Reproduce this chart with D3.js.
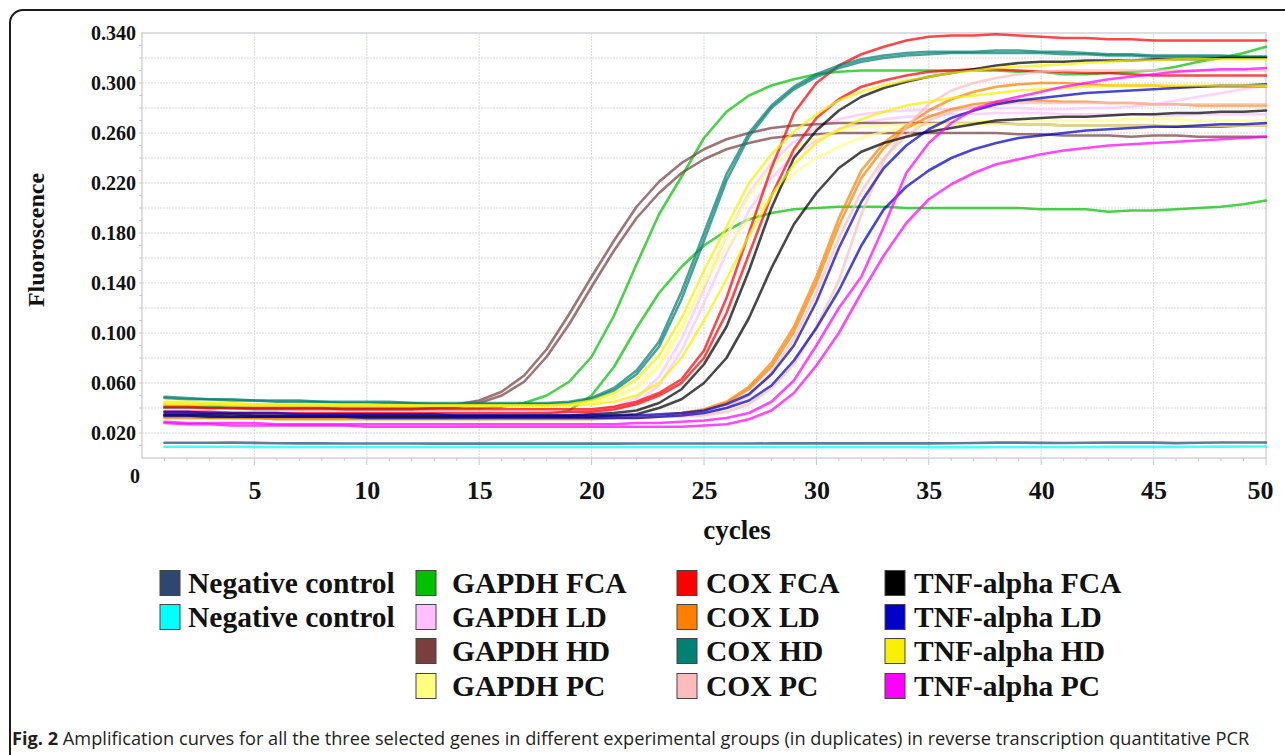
<!DOCTYPE html>
<html>
<head>
<meta charset="utf-8">
<script src="https://d3js.org/d3.v7.min.js"></script>
<style>
  body { margin: 0; background: #fff; }
  svg { display: block; }
</style>
</head>
<body>
<svg width="1285" height="755"></svg>
<script>
// ---- data ----
var cycles = [1,2,3,4,5,6,7,8,9,10,11,12,13,14,15,16,17,18,19,20,21,22,23,24,25,
              26,27,28,29,30,31,32,33,34,35,36,37,38,39,40,41,42,43,44,45,46,47,48,49,50];

var xTicks = [5,10,15,20,25,30,35,40,45,50];
var yTicks = [0.02,0.06,0.10,0.14,0.18,0.22,0.26,0.30,0.34];
var yGrid  = [0.02,0.04,0.06,0.08,0.10,0.12,0.14,0.16,0.18,0.20,0.22,0.24,0.26,0.28,0.30,0.32];

var negCtrl1 = [0.0122,0.0122,0.0122,0.0123,0.0121,0.0118,0.0117,0.0117,0.0116,0.0116,
  0.0116,0.0116,0.0115,0.0115,0.0115,0.0115,0.0115,0.0115,0.0115,0.0115,
  0.0115,0.0116,0.0116,0.0116,0.0116,0.0116,0.0116,0.0117,0.0117,0.0117,
  0.0117,0.0117,0.0117,0.0117,0.0117,0.0118,0.0120,0.0123,0.0123,0.0121,
  0.0120,0.0122,0.0123,0.0123,0.0123,0.0119,0.0122,0.0124,0.0124,0.0124];
var negCtrl2 = [0.0090,0.0090,0.0090,0.0090,0.0089,0.0088,0.0088,0.0088,0.0088,0.0088,
  0.0088,0.0088,0.0088,0.0088,0.0088,0.0088,0.0088,0.0088,0.0088,0.0088,
  0.0088,0.0088,0.0088,0.0088,0.0088,0.0088,0.0088,0.0088,0.0088,0.0088,
  0.0088,0.0088,0.0088,0.0088,0.0087,0.0087,0.0087,0.0088,0.0088,0.0088,
  0.0088,0.0088,0.0089,0.0089,0.0089,0.0089,0.0090,0.0091,0.0092,0.0092];

var gapdhFca1 = [0.041,0.041,0.041,0.040,0.040,0.040,0.040,0.040,0.040,0.040,
  0.040,0.040,0.040,0.040,0.040,0.041,0.044,0.050,0.061,0.081,
  0.114,0.155,0.195,0.225,0.256,0.277,0.290,0.298,0.303,0.307,
  0.309,0.310,0.310,0.310,0.310,0.310,0.310,0.310,0.309,0.309,
  0.307,0.307,0.308,0.309,0.310,0.313,0.317,0.320,0.324,0.329];
var gapdhFca2 = [0.033,0.033,0.032,0.032,0.032,0.032,0.032,0.032,0.032,0.032,
  0.032,0.032,0.032,0.032,0.032,0.033,0.034,0.035,0.038,0.050,
  0.073,0.104,0.132,0.153,0.170,0.182,0.191,0.196,0.199,0.200,
  0.201,0.201,0.201,0.200,0.200,0.200,0.200,0.200,0.200,0.199,
  0.199,0.199,0.197,0.198,0.198,0.199,0.200,0.201,0.203,0.206];
var gapdhLd1 = [0.037,0.037,0.037,0.036,0.036,0.036,0.036,0.036,0.036,0.036,
  0.036,0.036,0.036,0.036,0.036,0.036,0.036,0.037,0.037,0.038,
  0.041,0.048,0.065,0.095,0.135,0.178,0.212,0.236,0.253,0.264,
  0.271,0.275,0.277,0.278,0.279,0.279,0.280,0.280,0.280,0.279,
  0.279,0.280,0.280,0.281,0.283,0.286,0.289,0.292,0.295,0.298];
var gapdhLd2 = [0.036,0.036,0.035,0.035,0.035,0.035,0.035,0.035,0.035,0.035,
  0.035,0.035,0.035,0.035,0.035,0.035,0.035,0.035,0.035,0.036,
  0.038,0.044,0.058,0.086,0.124,0.164,0.198,0.224,0.242,0.254,
  0.263,0.268,0.271,0.273,0.274,0.275,0.275,0.276,0.276,0.276,
  0.275,0.275,0.275,0.275,0.274,0.274,0.275,0.275,0.275,0.275];
var gapdhHd1 = [0.043,0.043,0.043,0.042,0.042,0.042,0.042,0.042,0.042,0.042,
  0.042,0.042,0.042,0.043,0.046,0.053,0.066,0.087,0.115,0.145,
  0.174,0.201,0.221,0.236,0.247,0.255,0.260,0.264,0.266,0.267,
  0.268,0.268,0.268,0.268,0.268,0.268,0.268,0.268,0.267,0.267,
  0.266,0.266,0.266,0.266,0.266,0.265,0.265,0.265,0.266,0.266];
var gapdhHd2 = [0.040,0.040,0.040,0.040,0.039,0.039,0.039,0.039,0.039,0.039,
  0.039,0.039,0.040,0.041,0.044,0.050,0.061,0.081,0.107,0.137,
  0.166,0.192,0.212,0.228,0.239,0.247,0.252,0.256,0.258,0.259,
  0.260,0.260,0.260,0.260,0.260,0.260,0.260,0.260,0.259,0.259,
  0.258,0.258,0.258,0.257,0.258,0.258,0.257,0.257,0.257,0.257];
var gapdhPc1 = [0.044,0.044,0.044,0.043,0.043,0.043,0.043,0.043,0.043,0.043,
  0.043,0.043,0.043,0.043,0.043,0.043,0.043,0.043,0.044,0.045,
  0.049,0.057,0.075,0.105,0.140,0.168,0.192,0.210,0.228,0.240,
  0.249,0.256,0.261,0.265,0.267,0.268,0.269,0.270,0.270,0.270,
  0.270,0.270,0.270,0.271,0.271,0.271,0.270,0.270,0.270,0.270];
var gapdhPc2 = [0.043,0.043,0.043,0.043,0.042,0.042,0.042,0.042,0.042,0.042,
  0.042,0.042,0.042,0.042,0.042,0.042,0.042,0.042,0.043,0.044,
  0.048,0.056,0.073,0.103,0.140,0.178,0.210,0.233,0.247,0.256,
  0.262,0.265,0.266,0.267,0.267,0.267,0.267,0.267,0.267,0.267,
  0.266,0.266,0.266,0.266,0.266,0.266,0.266,0.266,0.266,0.266];

var coxFca1 = [0.041,0.041,0.040,0.040,0.040,0.040,0.040,0.040,0.039,0.039,
  0.039,0.039,0.039,0.039,0.039,0.039,0.039,0.039,0.039,0.039,
  0.041,0.045,0.052,0.063,0.086,0.128,0.180,0.232,0.276,0.300,
  0.314,0.323,0.329,0.334,0.337,0.338,0.338,0.339,0.338,0.337,
  0.336,0.336,0.335,0.335,0.334,0.334,0.334,0.334,0.334,0.334];
var coxFca2 = [0.037,0.037,0.037,0.036,0.036,0.036,0.036,0.036,0.036,0.036,
  0.036,0.036,0.036,0.036,0.036,0.036,0.036,0.036,0.037,0.037,
  0.039,0.043,0.050,0.060,0.080,0.116,0.163,0.210,0.247,0.272,
  0.287,0.297,0.302,0.306,0.309,0.310,0.311,0.311,0.310,0.309,
  0.309,0.308,0.308,0.307,0.306,0.306,0.306,0.306,0.306,0.306];
var coxLd1 = [0.033,0.033,0.033,0.033,0.032,0.032,0.032,0.032,0.032,0.032,
  0.032,0.032,0.032,0.032,0.032,0.032,0.032,0.032,0.032,0.032,
  0.032,0.033,0.034,0.036,0.039,0.045,0.057,0.076,0.105,0.145,
  0.192,0.230,0.252,0.266,0.278,0.287,0.293,0.297,0.299,0.300,
  0.300,0.299,0.298,0.298,0.298,0.297,0.297,0.297,0.297,0.297];
var coxLd2 = [0.032,0.032,0.032,0.032,0.032,0.031,0.031,0.031,0.031,0.031,
  0.031,0.031,0.031,0.031,0.031,0.031,0.031,0.031,0.031,0.031,
  0.032,0.032,0.033,0.035,0.038,0.044,0.055,0.073,0.101,0.140,
  0.186,0.224,0.248,0.264,0.273,0.279,0.283,0.285,0.286,0.286,
  0.285,0.285,0.284,0.284,0.283,0.283,0.282,0.282,0.282,0.282];
var coxHd1 = [0.049,0.048,0.047,0.047,0.046,0.046,0.046,0.045,0.045,0.045,
  0.045,0.044,0.044,0.044,0.044,0.044,0.044,0.044,0.045,0.048,
  0.056,0.070,0.093,0.133,0.180,0.227,0.260,0.282,0.297,0.307,
  0.314,0.319,0.322,0.324,0.325,0.325,0.325,0.326,0.326,0.325,
  0.325,0.324,0.323,0.323,0.322,0.322,0.322,0.322,0.321,0.321];
var coxHd2 = [0.048,0.047,0.047,0.046,0.046,0.045,0.045,0.045,0.044,0.044,
  0.044,0.044,0.043,0.043,0.043,0.043,0.043,0.043,0.044,0.047,
  0.054,0.067,0.089,0.127,0.174,0.222,0.257,0.280,0.295,0.305,
  0.312,0.317,0.320,0.322,0.323,0.324,0.324,0.324,0.324,0.324,
  0.323,0.323,0.322,0.322,0.321,0.321,0.321,0.321,0.321,0.321];
var coxPc1 = [0.034,0.034,0.034,0.033,0.033,0.033,0.033,0.033,0.033,0.033,
  0.033,0.033,0.033,0.033,0.033,0.033,0.033,0.033,0.033,0.033,
  0.033,0.033,0.033,0.033,0.034,0.037,0.043,0.056,0.075,0.105,
  0.142,0.195,0.238,0.265,0.283,0.294,0.300,0.304,0.307,0.309,
  0.310,0.310,0.310,0.310,0.310,0.310,0.310,0.310,0.310,0.310];
var coxPc2 = [0.035,0.035,0.035,0.034,0.034,0.034,0.034,0.034,0.034,0.034,
  0.034,0.034,0.034,0.034,0.034,0.034,0.034,0.034,0.034,0.034,
  0.034,0.034,0.034,0.034,0.035,0.040,0.050,0.068,0.095,0.132,
  0.176,0.213,0.240,0.258,0.270,0.277,0.281,0.283,0.284,0.284,
  0.284,0.284,0.284,0.284,0.283,0.283,0.283,0.283,0.283,0.283];

var tnfFca1 = [0.035,0.035,0.035,0.035,0.034,0.034,0.034,0.034,0.034,0.034,
  0.034,0.034,0.034,0.034,0.034,0.034,0.034,0.034,0.034,0.035,
  0.036,0.038,0.044,0.055,0.075,0.105,0.150,0.200,0.240,0.262,
  0.278,0.289,0.296,0.301,0.305,0.308,0.311,0.314,0.316,0.317,
  0.317,0.318,0.318,0.318,0.319,0.319,0.319,0.320,0.320,0.320];
var tnfFca2 = [0.034,0.034,0.033,0.033,0.033,0.033,0.033,0.033,0.033,0.033,
  0.033,0.033,0.033,0.033,0.033,0.033,0.033,0.033,0.033,0.033,
  0.034,0.035,0.040,0.047,0.060,0.080,0.112,0.152,0.187,0.212,
  0.232,0.245,0.252,0.257,0.261,0.264,0.267,0.270,0.271,0.272,
  0.273,0.273,0.274,0.275,0.275,0.276,0.276,0.277,0.277,0.278];
var tnfLd1 = [0.037,0.037,0.036,0.036,0.036,0.036,0.035,0.035,0.035,0.035,
  0.035,0.035,0.035,0.034,0.034,0.034,0.034,0.034,0.034,0.034,
  0.034,0.034,0.035,0.036,0.038,0.043,0.051,0.067,0.090,0.125,
  0.168,0.205,0.232,0.250,0.263,0.272,0.278,0.283,0.286,0.288,
  0.290,0.292,0.293,0.294,0.295,0.296,0.297,0.298,0.298,0.299];
var tnfLd2 = [0.034,0.034,0.034,0.033,0.033,0.033,0.033,0.033,0.033,0.032,
  0.032,0.032,0.032,0.032,0.032,0.032,0.032,0.032,0.032,0.032,
  0.032,0.032,0.033,0.034,0.036,0.040,0.046,0.058,0.078,0.104,
  0.134,0.170,0.199,0.217,0.230,0.240,0.247,0.252,0.256,0.258,
  0.260,0.262,0.263,0.264,0.265,0.265,0.266,0.267,0.267,0.268];
var tnfHd1 = [0.045,0.045,0.044,0.044,0.043,0.043,0.043,0.043,0.043,0.043,
  0.042,0.042,0.042,0.042,0.042,0.042,0.042,0.042,0.043,0.046,
  0.052,0.063,0.082,0.112,0.150,0.185,0.220,0.243,0.261,0.275,
  0.286,0.293,0.298,0.302,0.305,0.308,0.310,0.312,0.313,0.314,
  0.315,0.316,0.317,0.318,0.318,0.319,0.319,0.319,0.319,0.319];
var tnfHd2 = [0.043,0.043,0.043,0.042,0.042,0.042,0.042,0.042,0.042,0.042,
  0.042,0.042,0.042,0.042,0.042,0.042,0.042,0.042,0.042,0.043,
  0.045,0.050,0.060,0.080,0.110,0.143,0.178,0.210,0.235,0.252,
  0.263,0.271,0.277,0.282,0.285,0.288,0.290,0.292,0.294,0.295,
  0.296,0.297,0.298,0.298,0.298,0.298,0.298,0.298,0.298,0.298];
var tnfPc1 = [0.029,0.028,0.028,0.028,0.028,0.027,0.027,0.027,0.027,0.027,
  0.027,0.027,0.027,0.027,0.027,0.027,0.027,0.027,0.027,0.027,
  0.027,0.028,0.028,0.029,0.030,0.032,0.036,0.045,0.062,0.090,
  0.120,0.145,0.185,0.228,0.252,0.268,0.279,0.285,0.289,0.293,
  0.297,0.300,0.303,0.305,0.307,0.309,0.310,0.311,0.311,0.312];
var tnfPc2 = [0.028,0.027,0.027,0.026,0.026,0.026,0.026,0.026,0.026,0.025,
  0.025,0.025,0.025,0.025,0.025,0.025,0.025,0.025,0.025,0.025,
  0.025,0.025,0.025,0.025,0.026,0.027,0.031,0.038,0.052,0.074,
  0.100,0.132,0.162,0.188,0.207,0.219,0.228,0.235,0.239,0.243,
  0.246,0.248,0.250,0.251,0.252,0.253,0.254,0.255,0.256,0.257];

var groupNames = ["Negative control","Negative control",
  "GAPDH FCA","GAPDH LD","GAPDH HD","GAPDH PC",
  "COX FCA","COX LD","COX HD","COX PC",
  "TNF-alpha FCA","TNF-alpha LD","TNF-alpha HD","TNF-alpha PC"];
var groupSeries = [[negCtrl1],[negCtrl2],
  [gapdhFca1,gapdhFca2],[gapdhLd1,gapdhLd2],[gapdhHd1,gapdhHd2],[gapdhPc1,gapdhPc2],
  [coxFca1,coxFca2],[coxLd1,coxLd2],[coxHd1,coxHd2],[coxPc1,coxPc2],
  [tnfFca1,tnfFca2],[tnfLd1,tnfLd2],[tnfHd1,tnfHd2],[tnfPc1,tnfPc2]];
var groupColors = ["#2e4670","#00ffff",
  "#00c000","#ffc0ff","#7a3e3e","#ffff80",
  "#ff0000","#ff8000","#007f72","#ffbcbc",
  "#000000","#0000c8","#f8f000","#ff00ff"];

// ---- drawing ----
var svg = d3.select("svg");
var serif = "'Liberation Serif','Times New Roman',serif";

// rounded frame
svg.append("rect").attr("x",10).attr("y",10).attr("width",1320).attr("height",800)
  .attr("rx",13).attr("fill","none").attr("stroke","#1c1c1c").attr("stroke-width",2);

var x = d3.scaleLinear().domain([0,50]).range([142,1266]);
var y = d3.scaleLinear().domain([0,0.34]).range([458,33]);

var plot = svg.append("g");

// grid
plot.append("g").selectAll("line").data(yGrid).enter().append("line")
  .attr("x1",x(0)).attr("x2",x(50)).attr("y1",y).attr("y2",y)
  .attr("stroke","#d8d9df").attr("stroke-width",1).attr("stroke-dasharray","2,1");
plot.append("g").selectAll("line").data(xTicks.slice(0,-1)).enter().append("line")
  .attr("x1",x).attr("x2",x).attr("y1",y(0)).attr("y2",y(0.34))
  .attr("stroke","#d8d9df").attr("stroke-width",1).attr("stroke-dasharray","2,1");

// plot border
plot.append("rect").attr("x",x(0)).attr("y",y(0.34))
  .attr("width",x(50)-x(0)).attr("height",y(0)-y(0.34))
  .attr("fill","none").attr("stroke","#d2d4da").attr("stroke-width",1.5);

// minor ticks
plot.append("g").selectAll("line").data(cycles).enter().append("line")
  .attr("x1",x).attr("x2",x).attr("y1",y(0)).attr("y2",function(d){return y(0) + (d%5===0 ? 7 : 3);})
  .attr("stroke","#c6c8ce");
var yMinor = [];
for (var k = 1; k < 34; k++) yMinor.push(k/100);
plot.append("g").selectAll("line").data(yMinor).enter().append("line")
  .attr("x1",x(0)-3).attr("x2",x(0)).attr("y1",y).attr("y2",y)
  .attr("stroke","#c6c8ce");

// axes labels
var xAxis = d3.axisBottom(x).tickValues(xTicks).tickSize(0).tickPadding(23);
var gx = svg.append("g").attr("transform","translate(0,"+y(0)+")").call(xAxis);
gx.select(".domain").remove();
gx.selectAll("text").attr("font-family",serif).attr("font-weight","bold")
  .attr("font-size",26).attr("fill","#111")
  .attr("dx",function(d){return d===50 ? -6 : 0;});

var yAxis = d3.axisLeft(y).tickValues(yTicks).tickSize(0).tickPadding(6).tickFormat(d3.format(".3f"));
var gy = svg.append("g").attr("transform","translate("+x(0)+",0)").call(yAxis);
gy.select(".domain").remove();
gy.selectAll("text").attr("font-family",serif).attr("font-weight","bold")
  .attr("font-size",20).attr("fill","#111");
svg.append("text").attr("x",140).attr("y",476).attr("dy","0.35em").attr("text-anchor","end")
  .attr("font-family",serif).attr("font-weight","bold").attr("font-size",20).attr("fill","#111").text("0");

svg.append("text").attr("transform","translate(44,240) rotate(-90)").attr("text-anchor","middle")
  .attr("font-family",serif).attr("font-weight","bold").attr("font-size",24).attr("fill","#111")
  .text("Fluoroscence");
svg.append("text").attr("x",737).attr("y",539).attr("text-anchor","middle")
  .attr("font-family",serif).attr("font-weight","bold").attr("font-size",27).attr("fill","#111")
  .text("cycles");

// curves
var line = d3.line().x(function(d,i){return x(cycles[i]);}).y(function(d){return y(d);});
var curves = [];
groupSeries.forEach(function(list, g){
  list.forEach(function(s){ curves.push({values:s, color:groupColors[g]}); });
});
plot.append("g").selectAll("path").data(curves).enter().append("path")
  .attr("d",function(d){return line(d.values);})
  .attr("fill","none").attr("stroke",function(d){return d.color;})
  .attr("stroke-width",2.6).attr("stroke-opacity",0.72)
  .attr("stroke-linejoin","round").attr("stroke-linecap","round");

// legend
var colSwatchX = [160,416,677,885], colTextX = [188,452,706,914];
var rowY = [583,617,651,686];
var legendPos = groupNames.map(function(n,i){
  return i < 2 ? {c:0, r:i} : {c:1 + Math.floor((i-2)/4), r:(i-2)%4};
});
var leg = svg.append("g").selectAll("g").data(groupNames).enter().append("g");
leg.append("rect")
  .attr("x",function(d,i){return colSwatchX[legendPos[i].c];})
  .attr("y",function(d,i){return rowY[legendPos[i].r]-12.5;})
  .attr("width",20).attr("height",25)
  .attr("fill",function(d,i){return groupColors[i];})
  .attr("stroke","#444").attr("stroke-width",1);
leg.append("text")
  .attr("x",function(d,i){return colTextX[legendPos[i].c];})
  .attr("y",function(d,i){return rowY[legendPos[i].r]+10;})
  .attr("font-family",serif).attr("font-weight","bold").attr("font-size",29.5).attr("fill","#111")
  .text(function(d){return d;});

// caption
var cap = svg.append("text").attr("x",12).attr("y",745)
  .attr("font-family","'Open Sans','Noto Sans',sans-serif").attr("font-size",19).attr("fill","#231f20");
cap.append("tspan").attr("font-weight","bold").text("Fig. 2");
cap.append("tspan").text(" Amplification curves for all the three selected genes in different experimental groups (in duplicates) in reverse transcription quantitative PCR");
var w = cap.node().getComputedTextLength();
cap.attr("font-size", 19 * 1238 / w);
</script>
</body>
</html>
